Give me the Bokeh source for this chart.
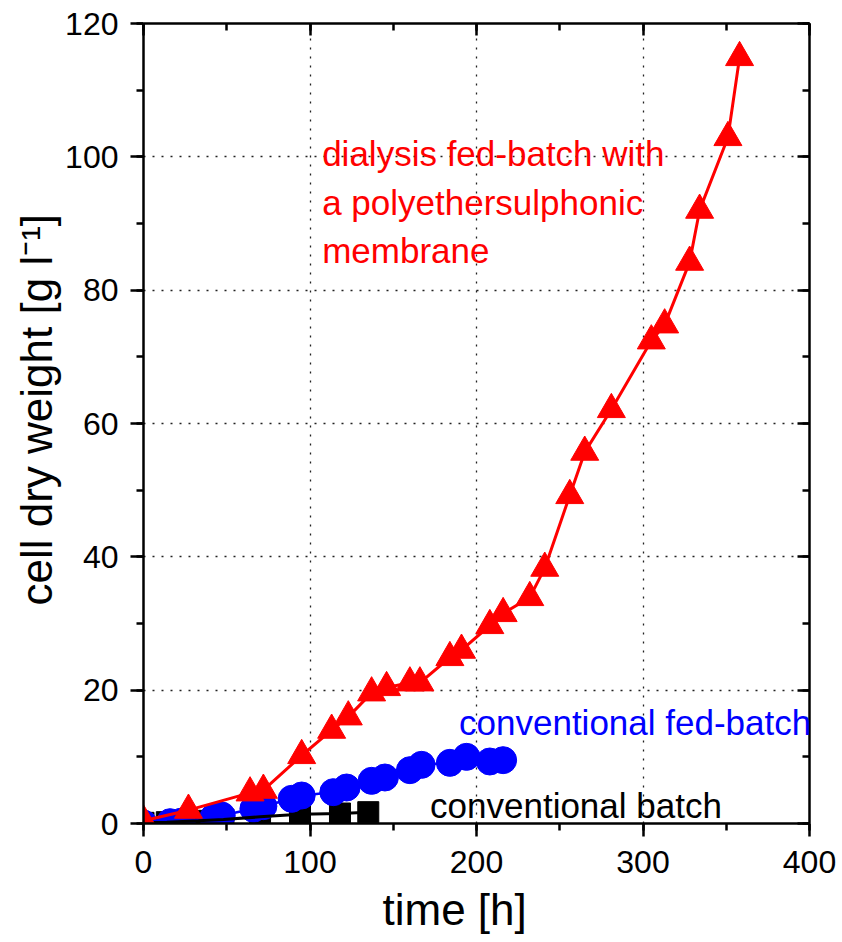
from bokeh.plotting import figure
from bokeh.models import Range1d, LinearAxis, SingleIntervalTicker, Label, CustomJSTickFormatter, Title
from bokeh.embed import file_html
from bokeh.resources import INLINE

# dialysis fed-batch (polyethersulphonic membrane)
dial_t = [0, 27, 64, 72, 95, 113, 123, 137, 146, 160, 166, 184, 191, 208, 216,
          232, 241, 256, 265, 281, 305, 313, 328, 334, 351, 358]
dial_cdw = [0.4, 2.0, 4.6, 5.0, 10.2, 14.0, 16.0, 19.6, 20.4, 21.1, 21.1, 24.9, 26.0,
            29.7, 31.5, 33.9, 38.3, 49.2, 55.7, 62.1, 72.4, 74.8, 84.2, 92.0, 102.9, 114.9]

# conventional fed-batch
fed_t = [0, 16, 23, 42, 47, 66, 72, 89, 95, 114, 122, 137, 145, 160, 167, 184, 194, 208, 216]
fed_cdw = [0.0, 0.2, 0.3, 0.9, 1.2, 2.2, 2.6, 3.7, 4.2, 4.7, 5.4, 6.4, 6.9, 8.0, 8.8,
           9.1, 10.0, 9.3, 9.5]

# conventional batch
batch_t = [0, 14, 33, 48, 70, 94, 118, 135]
batch_cdw = [0.1, 0.2, 0.4, 0.6, 1.0, 1.4, 1.5, 1.7]

FONT = "Liberation Sans"

p = figure(frame_width=666, frame_height=800,
           x_range=Range1d(0, 400), y_range=Range1d(0, 120),
           output_backend="svg", toolbar_location=None,
           min_border_left=143, min_border_right=33, min_border_top=23, min_border_bottom=119)
p.outline_line_color = None
p.background_fill_color = "white"

xt = SingleIntervalTicker(interval=100, num_minor_ticks=2)
yt = SingleIntervalTicker(interval=20, num_minor_ticks=2)
p.xaxis.ticker = xt
p.yaxis.ticker = yt
p.xgrid.ticker = xt
p.ygrid.ticker = yt

for g in (p.xgrid, p.ygrid):
    g.grid_line_color = "#222222"
    g.grid_line_dash = "2 7"
    g.grid_line_width = 1.3

for ax in (p.xaxis[0], p.yaxis[0]):
    ax.axis_line_width = 2.5
    ax.axis_line_color = "black"
    ax.major_tick_line_width = 2.5
    ax.minor_tick_line_width = 2.5
    ax.major_tick_out = 13
    ax.major_tick_in = 0
    ax.minor_tick_out = 7
    ax.minor_tick_in = 0
    ax.major_label_text_font = FONT
    ax.major_label_text_font_size = "32px"
    ax.major_label_text_color = "black"
p.xaxis.major_label_standoff = 14
p.yaxis.major_label_standoff = 12

blank = CustomJSTickFormatter(code="return ''")
top = LinearAxis(ticker=SingleIntervalTicker(interval=100, num_minor_ticks=2), formatter=blank)
right = LinearAxis(ticker=SingleIntervalTicker(interval=20, num_minor_ticks=2), formatter=blank)
for ax in (top, right):
    ax.axis_line_width = 2.5
    ax.major_tick_line_width = 2.5
    ax.minor_tick_line_width = 2.5
    ax.major_tick_in = 12
    ax.major_tick_out = 0
    ax.minor_tick_in = 7
    ax.minor_tick_out = 0
    ax.major_label_standoff = 0
    ax.major_label_text_font_size = "1px"
p.add_layout(top, "above")
p.add_layout(right, "right")

# axis titles
xtitle = Title(text="time [h]", align="left", offset=239, standoff=14,
               text_font=FONT, text_font_size="44px", text_font_style="normal", text_color="black")
ytitle = Title(text="cell dry weight [g l\u207b\u00b9]", align="left", offset=218, standoff=4,
               text_font=FONT, text_font_size="44px", text_font_style="normal", text_color="black")
p.add_layout(xtitle, "below")
p.add_layout(ytitle, "left")

# conventional batch
p.scatter(batch_t, batch_cdw, marker="square", size=21, color="black")
# conventional fed-batch
p.line(fed_t, fed_cdw, line_color="#0000FF", line_width=2.5)
p.scatter(fed_t, fed_cdw, marker="circle", size=27, color="#0000FF")
p.line(batch_t, batch_cdw, line_color="black", line_width=3)
# dialysis fed-batch
p.line(dial_t, dial_cdw, line_color="#FF0000", line_width=3)
p.scatter(dial_t, dial_cdw, marker="triangle", size=28, color="#FF0000")

def lab(x, y, text, color):
    p.add_layout(Label(x=x, y=y, text=text, text_color=color, text_font=FONT,
                       text_font_size="35px", text_baseline="alphabetic", text_align="left"))

lab(107.3, 100.5, "dialysis fed-batch with", "#FF0000")
lab(107.3, 93.1, "a polyethersulphonic", "#FF0000")
lab(107.3, 86.0, "membrane", "#FF0000")
lab(189.5, 15.15, "conventional fed-batch", "#0000FF")
lab(172.1, 2.7, "conventional batch", "black")

open("out.html", "w").write(file_html(p, INLINE))
